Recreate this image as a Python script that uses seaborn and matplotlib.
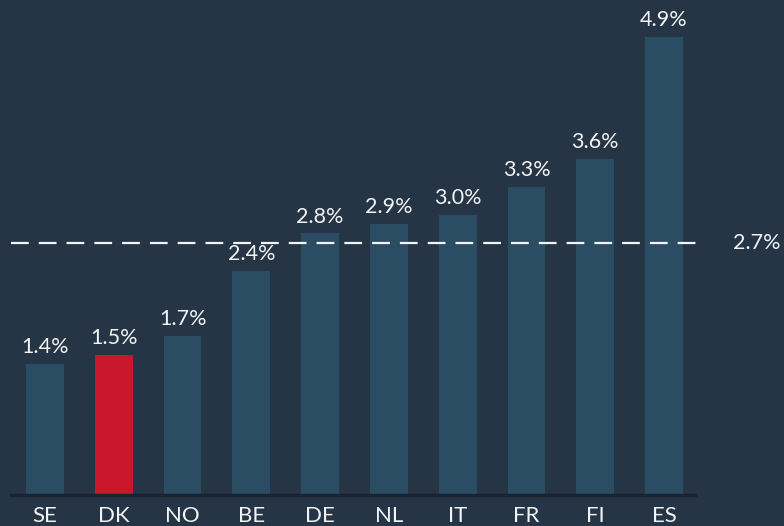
import matplotlib
matplotlib.use("Agg")
import matplotlib.pyplot as plt
import seaborn as sns
import pandas as pd

# --------- Data ---------
countries = ["SE", "DK", "NO", "BE", "DE", "NL", "IT", "FR", "FI", "ES"]
values = [1.4, 1.5, 1.7, 2.4, 2.8, 2.9, 3.0, 3.3, 3.6, 4.9]
average = 2.7
highlight = "DK"

# --------- Style ---------
BG = "#253545"
BAR = "#2b4d63"
RED = "#c8172a"
TXT = "#f2f3f5"

sns.set_style("dark")
plt.rcParams["font.family"] = ["Lato", "DejaVu Sans"]

df = pd.DataFrame({"country": countries, "value": values})
palette = {c: (RED if c == highlight else BAR) for c in countries}

fig = plt.figure(figsize=(7.84, 5.26), dpi=100, facecolor=BG)
ax = fig.add_axes([11 / 784, 31 / 526, 684 / 784, 495 / 526])
ax.set_facecolor(BG)

sns.barplot(data=df, x="country", y="value", hue="country", palette=palette,
            width=0.55, legend=False, ax=ax, saturation=1, linewidth=0,
            edgecolor="none")

for cont in ax.containers:
    ax.bar_label(cont, fmt="%.1f%%", padding=5, color=TXT, fontsize=15.5)

# average line
ax.axhline(average, color=TXT, lw=1.6, dashes=(8, 4.5), xmin=0, xmax=1.003,
           clip_on=False)
ax.text(1.09, average, f"{average:.1f}%", transform=ax.get_yaxis_transform(),
        color=TXT, fontsize=15.5, ha="center", va="center")

ax.set_xlim(-0.494, 9.45)
ax.set_ylim(0, 5.3)
ax.set_xlabel("")
ax.set_ylabel("")
ax.set_yticks([])
ax.tick_params(axis="x", length=0, pad=8, colors=TXT, labelsize=16)
ax.grid(False)
for side in ["top", "right", "left"]:
    ax.spines[side].set_visible(False)
ax.spines["bottom"].set_color("#1a2430")
ax.spines["bottom"].set_linewidth(2.5)

plt.savefig("out.png", dpi=100, facecolor=BG)
